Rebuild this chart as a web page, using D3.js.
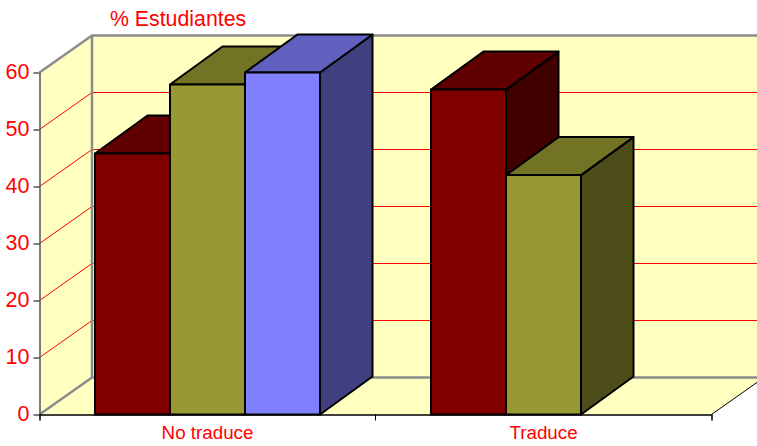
<!DOCTYPE html>
<html>
<head>
<meta charset="utf-8">
<script src="https://cdn.jsdelivr.net/npm/d3@7"></script>
<style>
  html, body { margin: 0; padding: 0; background: #fff; }
  svg { display: block; }
  text { font-family: "Liberation Sans", Arial, sans-serif; fill: #ff0000; }
</style>
</head>
<body>
<div id="mainChart"></div>
<script>
const categories = ['No traduce', 'Traduce'];
const seriesNames = ['s1', 's2', 's3'];
const seriesValues = [
    [ 45.8, 57 ],
    [ 57.9, 42 ],
    [ 60, null ]
];
const yTicks = [ 0, 10, 20, 30, 40, 50, 60 ];
const yTitle = '% Estudiantes';

const frontColors = [ '#800000', '#999933', '#8080ff' ];
const topColors = [ '#600000', '#737326', '#6060bf' ];
const sideColors = [ '#400000', '#4d4d1a', '#404080' ];

const CHART_SIZE = { width: 757, height: 446 };
const DEPTH = { x: 52.5, y: -37 };
const BAR_DEPTH = { x: 52.5, y: -38 };
const WALL_FILL = '#ffffc0';
const WALL_EDGE = '#8c8c8c';

const x = d3.scaleBand()
    .domain(categories)
    .range([ 39.5, 711.5 ]);

const xInner = d3.scaleBand()
    .domain(seriesNames)
    .range([ 55.5, 280.5 ]);

const y = d3.scaleLinear()
    .domain([ 0, 60 ])
    .range([ 414.5, 72.5 ]);

const svg = d3.select('#mainChart')
    .append('svg')
    .attr('width', CHART_SIZE.width)
    .attr('height', CHART_SIZE.height);

const poly = pts => {
    const p = d3.path();
    pts.forEach((pt, i) => i === 0 ? p.moveTo(pt[0], pt[1]) : p.lineTo(pt[0], pt[1]));
    p.closePath();
    return p.toString();
};

const x0 = x.range()[0];
const x1 = x.range()[1];
const y0 = y(0);
const y60 = y(60);

// walls and floor of the 3d box
const walls = svg.append('g');
walls.append('path')
    .attr('fill', WALL_FILL)
    .attr('d', poly([
        [ x0, y0 ], [ x0, y60 ], [ x0 + DEPTH.x, y60 + DEPTH.y ],
        [ x1 + DEPTH.x, y60 + DEPTH.y ], [ x1 + DEPTH.x, y0 + DEPTH.y ], [ x1, y0 ]
    ]));

// gridlines run along the left wall, then across the back wall
const grid = svg.append('g')
    .attr('fill', 'none')
    .attr('stroke', '#ff0000')
    .attr('stroke-width', 1);
yTicks.filter(d => d > 0 && d < 60).forEach(d => {
    grid.append('path')
        .attr('d', `M${x0},${y(d)}L${x0 + DEPTH.x},${y(d) + DEPTH.y}L${x1 + DEPTH.x},${y(d) + DEPTH.y}`);
});

const edges = svg.append('g')
    .attr('fill', 'none')
    .attr('stroke', WALL_EDGE)
    .attr('stroke-width', 2.5);
edges.append('path')
    .attr('d', `M${x0},${y60}L${x0 + DEPTH.x},${y60 + DEPTH.y}L${x1 + DEPTH.x},${y60 + DEPTH.y}`);
edges.append('path')
    .attr('d', `M${x0 + DEPTH.x},${y60 + DEPTH.y}L${x0 + DEPTH.x},${y0 + DEPTH.y}`);
edges.append('path')
    .attr('d', `M${x0},${y0}L${x0 + DEPTH.x},${y0 + DEPTH.y}L${x1 + DEPTH.x},${y0 + DEPTH.y}`);

svg.append('path')
    .attr('fill', 'none')
    .attr('stroke', '#000')
    .attr('stroke-width', 1)
    .attr('d', `M${x1},${y0}L${x1 + DEPTH.x},${y0 + DEPTH.y}`);

// bars, series by series so each one covers the side of the previous one
const bars = svg.append('g')
    .attr('stroke', '#000')
    .attr('stroke-width', 2)
    .attr('stroke-linejoin', 'round');
categories.forEach((cat, c) => {
    seriesNames.forEach((name, s) => {
        const value = seriesValues[s][c];
        if (value === null) return;
        const left = x(cat) + xInner(name);
        const right = left + xInner.bandwidth();
        const top = y(value);
        const bar = bars.append('g');
        bar.append('path')
            .attr('fill', sideColors[s])
            .attr('d', poly([
                [ right, y0 ], [ right, top ],
                [ right + BAR_DEPTH.x, top + BAR_DEPTH.y ], [ right + BAR_DEPTH.x, y0 + BAR_DEPTH.y ]
            ]));
        bar.append('path')
            .attr('fill', topColors[s])
            .attr('d', poly([
                [ left, top ], [ left + BAR_DEPTH.x, top + BAR_DEPTH.y ],
                [ right + BAR_DEPTH.x, top + BAR_DEPTH.y ], [ right, top ]
            ]));
        bar.append('path')
            .attr('fill', frontColors[s])
            .attr('d', poly([ [ left, y0 ], [ left, top ], [ right, top ], [ right, y0 ] ]));
    });
});

// axes
const yAxis = svg.append('g')
    .attr('transform', `translate(${x0}, 0)`)
    .call(d3.axisLeft(y).tickValues(yTicks).tickSize(6).tickPadding(4).tickSizeOuter(0));
yAxis.selectAll('text')
    .style('font-size', '21.5px')
    .attr('dy', '0.27em')
    .attr('fill', '#ff0000');
yAxis.select('.domain').attr('stroke', '#555').attr('stroke-width', 1.5);

const xAxis = svg.append('g')
    .attr('transform', `translate(0, ${y0})`)
    .call(d3.axisBottom(x).tickSize(0).tickPadding(11).tickSizeOuter(6));
xAxis.selectAll('text').style('font-size', '18.8px').attr('fill', '#ff0000');
xAxis.select('.domain').attr('stroke', '#000').attr('stroke-width', 1.5);

// category separators sit between the bands, not at their centres
xAxis.selectAll('.sep')
    .data(x.domain().slice(1))
    .join('line')
    .attr('class', 'sep')
    .attr('stroke', '#000')
    .attr('x1', d => x(d))
    .attr('x2', d => x(d))
    .attr('y1', 0)
    .attr('y2', 6);

svg.append('text')
    .attr('x', 110)
    .attr('y', 25.5)
    .style('font-size', '21.3px')
    .text(yTitle);
</script>
</body>
</html>
